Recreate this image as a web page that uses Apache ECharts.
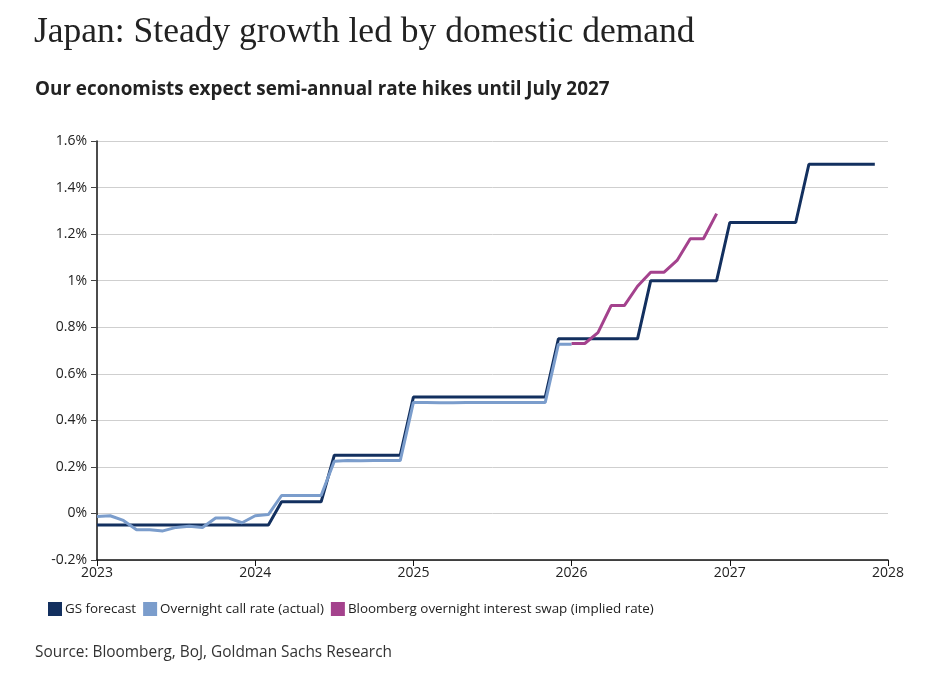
<!DOCTYPE html>
<html><head><meta charset="utf-8">
<script src="https://cdn.jsdelivr.net/npm/echarts@6/dist/echarts.min.js"></script>
<style>
html,body{margin:0;padding:0;background:#fff;}
#chart{width:929px;height:675px;}
</style></head>
<body><div id="chart"></div>
<script>
const title = "Japan: Steady growth led by domestic demand";
const subtitle = "Our economists expect semi-annual rate hikes until July 2027";
const source = "Source: Bloomberg, BoJ, Goldman Sachs Research";
const seriesNames = ["GS forecast", "Overnight call rate (actual)", "Bloomberg overnight interest swap (implied rate)"];
const yTicks = [-0.2, 0, 0.2, 0.4, 0.6, 0.8, 1.0, 1.2, 1.4, 1.6];
const xYears = [2023, 2024, 2025, 2026, 2027, 2028];

// GS forecast, monthly Jan 2023 - Dec 2027
const gsStart = "2023-01";
const gsForecast = [
  -0.05,-0.05,-0.05,-0.05,-0.05,-0.05,-0.05,-0.05,-0.05,-0.05,-0.05,-0.05,
  -0.05,-0.05,0.05,0.05,0.05,0.05,0.25,0.25,0.25,0.25,0.25,0.25,
  0.5,0.5,0.5,0.5,0.5,0.5,0.5,0.5,0.5,0.5,0.5,0.75,
  0.75,0.75,0.75,0.75,0.75,0.75,1.0,1.0,1.0,1.0,1.0,1.0,
  1.25,1.25,1.25,1.25,1.25,1.25,1.5,1.5,1.5,1.5,1.5,1.5
];
// Overnight call rate (actual), monthly Jan 2023 - Jan 2026
const callStart = "2023-01";
const callRate = [
  -0.013,-0.01,-0.03,-0.07,-0.07,-0.075,-0.06,-0.055,-0.06,-0.02,-0.02,-0.04,
  -0.01,-0.005,0.077,0.077,0.077,0.077,0.224,0.227,0.226,0.227,0.227,0.227,
  0.477,0.477,0.476,0.476,0.477,0.477,0.477,0.477,0.477,0.477,0.477,0.727,
  0.727
];
// Bloomberg OIS implied, monthly Jan 2026 - Dec 2026
const oisStart = "2026-01";
const oisRate = [0.73,0.73,0.777,0.893,0.893,0.976,1.036,1.036,1.087,1.18,1.18,1.288];

function toPairs(start, vals){
  const [y,m] = start.split('-').map(Number);
  return vals.map((v,i)=>{ const mi=(m-1)+i; return [y + mi/12, v]; });
}

const font = "'Open Sans', 'Noto Sans', sans-serif";
const chart = echarts.init(document.getElementById('chart'), null, {renderer:'canvas'});
chart.setOption({
  animation:false,
  backgroundColor:'#fff',
  title:[
    {text:title, left:29, top:10, textStyle:{fontFamily:"'Liberation Serif', serif", fontSize:35.5, fontWeight:'normal', color:'#222'}},
    {text:subtitle, left:30, top:75, textStyle:{fontFamily:font, fontSize:18.85, fontWeight:'bold', color:'#222'}},
    {text:source, left:30, top:640, textStyle:{fontFamily:font, fontSize:15.4, fontWeight:'normal', color:'#333'}}
  ],
  legend:{
    left:43, top:597, icon:'rect', itemWidth:14, itemHeight:14, itemGap:7,
    textStyle:{fontFamily:font, fontSize:13.4, color:'#222', padding:[0,0,0,-2]},
    data:seriesNames
  },
  grid:{left:97, right:41, top:141, bottom:115, containLabel:false},
  xAxis:{
    type:'value', min:xYears[0], max:xYears[xYears.length-1], interval:1,
    axisLine:{show:true, onZero:false, lineStyle:{color:'#111', width:1.5}},
    axisTick:{show:true, length:6, lineStyle:{color:'#111'}},
    axisLabel:{fontFamily:font, fontSize:14, color:'#222', margin:6, formatter:v=>String(v)},
    splitLine:{show:false}
  },
  yAxis:{
    type:'value', min:yTicks[0], max:yTicks[yTicks.length-1], interval:0.2,
    axisLine:{show:true, onZero:false, lineStyle:{color:'#111', width:1.5}},
    axisTick:{show:true, length:6, lineStyle:{color:'#444'}},
    axisLabel:{fontFamily:font, fontSize:14, color:'#222', margin:10,
      formatter:v=>{ const r=Math.round(v*10)/10; return (r===0?'0':String(r))+'%'; }},
    splitLine:{show:true, lineStyle:{color:'#cfcfcf', width:1}}
  },
  series:[
    {name:seriesNames[0], type:'line', data:toPairs(gsStart, gsForecast), showSymbol:false, symbol:'none',
     lineStyle:{color:'#13305f', width:3}, itemStyle:{color:'#13305f'}, z:2},
    {name:seriesNames[1], type:'line', data:toPairs(callStart, callRate), showSymbol:false, symbol:'none',
     lineStyle:{color:'#7b9dcc', width:3}, itemStyle:{color:'#7b9dcc'}, z:3},
    {name:seriesNames[2], type:'line', data:toPairs(oisStart, oisRate), showSymbol:false, symbol:'none',
     lineStyle:{color:'#a4428d', width:3}, itemStyle:{color:'#a4428d'}, z:4}
  ]
});
</script></body></html>
